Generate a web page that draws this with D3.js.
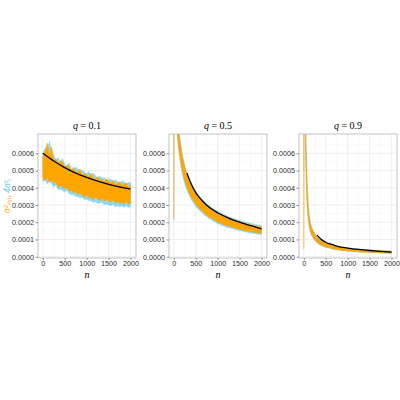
<!DOCTYPE html>
<html lang="en">
<head>
  <meta charset="UTF-8">
  <title>variance vs n</title>
  <style>
    body { margin: 0; background: #fff; }
  </style>
</head>
<body>
  <script src="https://cdn.jsdelivr.net/npm/d3@7/dist/d3.min.js"></script>
  <script>
// 画布大小
const width = 400
const height = 400

// 数据 (y 值单位: 1e-4)
const panelTitles = ['0.1', '0.5', '0.9']
const yTicks = [0, 1, 2, 3, 4, 5, 6]
const xTicks = [0, 500, 1000, 1500, 2000]

// q = 0.1 的 n 网格
const nGrid = [0, 50, 100, 150, 200, 250, 300, 350, 400, 450, 500,
  550, 600, 650, 700, 750, 800, 850, 900, 950, 1000,
  1050, 1100, 1150, 1200, 1250, 1300, 1350, 1400, 1450, 1500,
  1550, 1600, 1650, 1700, 1750, 1800, 1850, 1900, 1950, 2000]
// q = 0.5, 0.9 的 n 网格 (开头更密)
const nGridEarly = [0, 10, 20, 35, 50, 75, 100, 125, 150, 175, 200,
  250, 300, 350, 400, 450, 500,
  550, 600, 650, 700, 750, 800, 850, 900, 950, 1000,
  1050, 1100, 1150, 1200, 1250, 1300, 1350, 1400, 1450, 1500,
  1550, 1600, 1650, 1700, 1750, 1800, 1850, 1900, 1950, 2000]

// q = 0.1
const q1OrangeHi = [5.8, 6.1, 6.6, 5.9, 6.4, 5.5, 5.7, 5.35, 5.6, 5.5, 5.1,
  5.35, 5.25, 4.95, 5.2, 4.85, 4.95, 5.1, 4.7, 4.85, 4.75,
  4.6, 4.85, 4.55, 4.5, 4.65, 4.45, 4.5, 4.3, 4.55, 4.35,
  4.3, 4.45, 4.2, 4.25, 4.35, 4.15, 4.2, 4.3, 4.05, 4.15]
const q1OrangeLo = [4.55, 4.4, 4.6, 4.3, 4.45, 4.25, 4.35, 4.0, 4.15, 4.05, 3.95,
  4.0, 3.8, 3.85, 3.7, 3.8, 3.6, 3.7, 3.55, 3.45, 3.6,
  3.4, 3.5, 3.3, 3.45, 3.35, 3.25, 3.4, 3.2, 3.3, 3.25,
  3.15, 3.3, 3.1, 3.2, 3.1, 3.15, 3.05, 3.2, 3.05, 3.1]
const q1BlueHi = [6.0, 6.3, 6.2, 6.7, 6.1, 5.9, 5.6, 5.75, 5.4, 5.7, 5.35,
  5.2, 5.45, 5.15, 5.05, 5.2, 5.1, 4.9, 5.05, 4.9, 4.8,
  4.95, 4.7, 4.85, 4.7, 4.55, 4.7, 4.55, 4.6, 4.4, 4.5,
  4.5, 4.35, 4.45, 4.4, 4.25, 4.4, 4.35, 4.2, 4.3, 4.3]
const q1BlueLo = [4.3, 4.5, 4.2, 4.4, 4.25, 4.05, 4.15, 3.9, 3.9, 3.85, 3.75,
  3.85, 3.65, 3.6, 3.6, 3.5, 3.5, 3.4, 3.45, 3.3, 3.35,
  3.25, 3.25, 3.15, 3.2, 3.1, 3.1, 3.15, 3.0, 3.05, 3.0,
  2.95, 3.05, 2.9, 2.95, 2.9, 2.95, 2.85, 2.95, 2.85, 2.9]
const q1CurveN = [0, 250, 500, 750, 1000, 1250, 1500, 1750, 2000]
const q1Curve = [6.0, 5.55, 5.17, 4.85, 4.6, 4.38, 4.2, 4.05, 3.92]

// q = 0.5
const q5OrangeHi = [2.3, 22, 15, 11, 9.6, 8.4, 7.6, 7.0, 6.5, 6.1, 5.7,
  5.2, 4.75, 4.35, 4.15, 3.8, 3.7,
  3.5, 3.35, 3.25, 3.05, 3.0, 2.85, 2.8, 2.65, 2.65, 2.5,
  2.5, 2.38, 2.4, 2.28, 2.25, 2.22, 2.12, 2.16, 2.05, 2.06,
  1.98, 1.95, 1.93, 1.86, 1.88, 1.8, 1.84, 1.75, 1.78, 1.72]
const q5OrangeLo = [2.2, 18, 12, 9.3, 8.3, 7.3, 6.6, 6.0, 5.6, 5.2, 4.9,
  4.4, 4.0, 3.7, 3.45, 3.25, 3.05,
  2.9, 2.75, 2.65, 2.5, 2.42, 2.3, 2.25, 2.15, 2.1, 2.0,
  1.97, 1.9, 1.86, 1.8, 1.77, 1.72, 1.7, 1.65, 1.62, 1.58,
  1.57, 1.52, 1.5, 1.47, 1.46, 1.42, 1.41, 1.38, 1.37, 1.35]
const q5BlueHi = [2.4, 24, 16, 11.5, 10, 8.7, 7.9, 7.2, 6.7, 6.3, 5.9,
  5.35, 4.85, 4.5, 4.25, 3.95, 3.8,
  3.6, 3.48, 3.3, 3.22, 3.05, 3.0, 2.85, 2.8, 2.7, 2.66,
  2.55, 2.52, 2.43, 2.4, 2.32, 2.3, 2.22, 2.2, 2.13, 2.12,
  2.05, 2.05, 1.98, 1.98, 1.92, 1.92, 1.86, 1.87, 1.82, 1.8]
const q5BlueLo = [2.1, 17, 11.5, 9, 8, 7.0, 6.3, 5.8, 5.4, 5.0, 4.7,
  4.2, 3.85, 3.55, 3.3, 3.1, 2.9,
  2.78, 2.62, 2.55, 2.4, 2.33, 2.2, 2.16, 2.06, 2.02, 1.9,
  1.88, 1.8, 1.78, 1.7, 1.69, 1.63, 1.62, 1.56, 1.55, 1.5,
  1.49, 1.44, 1.43, 1.39, 1.38, 1.35, 1.34, 1.31, 1.3, 1.28]
const q5CurveN = [300, 400, 500, 600, 750, 1000, 1250, 1500, 1750, 2000]
const q5Curve = [4.85, 4.2, 3.72, 3.38, 2.98, 2.55, 2.24, 2.0, 1.8, 1.62]

// q = 0.9
const q9OrangeHi = [0.55, 30, 16, 9.5, 6.5, 4.2, 2.9, 2.3, 1.9, 1.7, 1.55,
  1.3, 1.1, 1.0, 0.92, 0.85, 0.78,
  0.75, 0.7, 0.66, 0.62, 0.59, 0.56, 0.54, 0.52, 0.5, 0.48,
  0.47, 0.45, 0.44, 0.43, 0.42, 0.41, 0.4, 0.39, 0.38, 0.37,
  0.37, 0.36, 0.35, 0.35, 0.34, 0.34, 0.33, 0.33, 0.32, 0.32]
const q9OrangeLo = [0.45, 20, 11, 7, 4.8, 3.1, 2.2, 1.75, 1.45, 1.3, 1.18,
  0.98, 0.84, 0.75, 0.68, 0.62, 0.56,
  0.54, 0.5, 0.47, 0.44, 0.42, 0.4, 0.38, 0.36, 0.35, 0.33,
  0.32, 0.31, 0.3, 0.29, 0.28, 0.27, 0.27, 0.26, 0.25, 0.25,
  0.24, 0.24, 0.23, 0.23, 0.22, 0.22, 0.21, 0.21, 0.21, 0.2]
const q9BlueHi = [9, 32, 17, 10, 7, 4.5, 3.1, 2.45, 2.0, 1.8, 1.62,
  1.37, 1.16, 1.05, 0.96, 0.89, 0.82,
  0.78, 0.73, 0.69, 0.65, 0.62, 0.59, 0.57, 0.55, 0.53, 0.51,
  0.5, 0.48, 0.47, 0.46, 0.45, 0.44, 0.43, 0.42, 0.41, 0.4,
  0.4, 0.39, 0.38, 0.38, 0.37, 0.37, 0.36, 0.36, 0.35, 0.35]
const q9BlueLo = [5, 19, 10.5, 6.6, 4.5, 2.9, 2.05, 1.62, 1.35, 1.2, 1.1,
  0.92, 0.79, 0.7, 0.64, 0.58, 0.53,
  0.51, 0.47, 0.44, 0.41, 0.39, 0.37, 0.35, 0.34, 0.33, 0.31,
  0.3, 0.29, 0.28, 0.27, 0.26, 0.25, 0.25, 0.24, 0.23, 0.23,
  0.22, 0.22, 0.21, 0.21, 0.2, 0.2, 0.19, 0.19, 0.19, 0.18]
const q9CurveN = [300, 400, 500, 600, 750, 1000, 1250, 1500, 1750, 2000]
const q9Curve = [1.25, 1.0, 0.84, 0.74, 0.62, 0.5, 0.42, 0.36, 0.31, 0.27]

// 面板配置
const panels = [
  { title: panelTitles[0], n: nGrid, oHi: q1OrangeHi, oLo: q1OrangeLo, bHi: q1BlueHi, bLo: q1BlueLo, cn: q1CurveN, c: q1Curve },
  { title: panelTitles[1], n: nGridEarly, oHi: q5OrangeHi, oLo: q5OrangeLo, bHi: q5BlueHi, bLo: q5BlueLo, cn: q5CurveN, c: q5Curve },
  { title: panelTitles[2], n: nGridEarly, oHi: q9OrangeHi, oLo: q9OrangeLo, bHi: q9BlueHi, bLo: q9BlueLo, cn: q9CurveN, c: q9Curve }
]

const orange = '#ffa500'
const blue = '#5cc8f0'

const panelLeft = [38, 169, 299]
const panelTop = 134
const panelW = 98
const panelH = 124

const svg = d3.select('body').append('svg')
  .attr('width', width)
  .attr('height', height)
  .style('font-family', 'Liberation Sans, Arial, sans-serif')

// 比例尺
const xScale = d3.scaleLinear().domain([-110, 2125]).range([0, panelW])
const yScale = d3.scaleLinear().domain([-0.075, 7.12]).range([panelH, 0])

const xMinor = [250, 750, 1250, 1750]
const yMinor = [0.5, 1.5, 2.5, 3.5, 4.5, 5.5, 6.5]

panels.forEach((p, k) => {
  const g = svg.append('g')
    .attr('transform', `translate(${panelLeft[k]}, ${panelTop})`)

  // 网格
  g.selectAll('.minor-x').data(xMinor).enter().append('line')
    .attr('x1', d => xScale(d)).attr('x2', d => xScale(d))
    .attr('y1', 0).attr('y2', panelH)
    .attr('stroke', '#f4f4f4').attr('stroke-width', 0.5)
  g.selectAll('.minor-y').data(yMinor).enter().append('line')
    .attr('y1', d => yScale(d)).attr('y2', d => yScale(d))
    .attr('x1', 0).attr('x2', panelW)
    .attr('stroke', '#f4f4f4').attr('stroke-width', 0.5)
  g.selectAll('.major-x').data(xTicks).enter().append('line')
    .attr('x1', d => xScale(d)).attr('x2', d => xScale(d))
    .attr('y1', 0).attr('y2', panelH)
    .attr('stroke', '#ebebeb').attr('stroke-width', 0.8)
  g.selectAll('.major-y').data(yTicks).enter().append('line')
    .attr('y1', d => yScale(d)).attr('y2', d => yScale(d))
    .attr('x1', 0).attr('x2', panelW)
    .attr('stroke', '#ebebeb').attr('stroke-width', 0.8)

  // 裁剪
  svg.append('clipPath').attr('id', 'clip' + k)
    .append('rect').attr('width', panelW).attr('height', panelH)

  const plot = g.append('g').attr('clip-path', `url(#clip${k})`)

  const idx = p.n.map((d, i) => i)
  const bandArea = (hi, lo) => d3.area()
    .x(i => xScale(p.n[i]))
    .y0(i => yScale(lo[i]))
    .y1(i => yScale(hi[i]))

  plot.append('path').datum(idx)
    .attr('d', bandArea(p.bHi, p.bLo))
    .attr('fill', blue).attr('fill-opacity', 0.7)
    .attr('stroke', blue).attr('stroke-width', 0.4).attr('stroke-opacity', 0.6)
  plot.append('path').datum(idx)
    .attr('d', bandArea(p.oHi, p.oLo))
    .attr('fill', orange)
    .attr('stroke', orange).attr('stroke-width', 0.4)

  // 黑色理论曲线
  const line = d3.line()
    .x((d, i) => xScale(p.cn[i]))
    .y(d => yScale(d))
    .curve(d3.curveMonotoneX)
  plot.append('path').datum(p.c)
    .attr('d', line)
    .attr('fill', 'none')
    .attr('stroke', '#000')
    .attr('stroke-width', 1.3)

  // 边框
  g.append('rect')
    .attr('width', panelW).attr('height', panelH)
    .attr('fill', 'none')
    .attr('stroke', '#bdbdbd').attr('stroke-width', 0.9)

  // y 轴
  const yAxis = d3.axisLeft(yScale).tickValues(yTicks)
    .tickSize(2.5).tickPadding(1.5)
    .tickFormat(d => (d / 10000).toFixed(4))
  const ya = g.append('g').call(yAxis)
  ya.select('.domain').remove()
  ya.selectAll('line').attr('stroke', '#555').attr('stroke-width', 0.6)
  ya.selectAll('text').attr('font-size', '7.2px').style('fill', '#2b2b2b')
    .style('font-family', 'Liberation Sans, Arial, sans-serif')

  // x 轴
  const xAxis = d3.axisBottom(xScale).tickValues(xTicks)
    .tickSize(2).tickPadding(1)
    .tickFormat(d3.format('d'))
  const xa = g.append('g').attr('transform', `translate(0, ${panelH})`).call(xAxis)
  xa.select('.domain').remove()
  xa.selectAll('line').attr('stroke', '#555').attr('stroke-width', 0.6)
  xa.selectAll('text').attr('font-size', '7.2px').style('fill', '#2b2b2b')
    .style('font-family', 'Liberation Sans, Arial, sans-serif')

  // x 轴标签
  g.append('text')
    .attr('x', panelW / 2).attr('y', panelH + 20)
    .attr('text-anchor', 'middle')
    .style('font-family', 'Liberation Serif, serif')
    .style('font-style', 'italic')
    .attr('font-size', '10px')
    .text('n')

  // 标题
  const t = g.append('text')
    .attr('x', panelW / 2).attr('y', -5)
    .attr('text-anchor', 'middle')
    .style('font-family', 'Liberation Serif, serif')
    .attr('font-size', '10px')
  t.append('tspan').style('font-style', 'italic').text('q')
  t.append('tspan').text(' = ' + p.title)
})

// y 轴标签 (两种颜色)
const yl = svg.append('text')
  .attr('transform', `translate(10, ${panelTop + panelH / 2}) rotate(-90)`)
  .attr('text-anchor', 'middle')
  .style('font-family', 'Liberation Serif, serif')
  .style('font-style', 'italic')
  .attr('font-size', '9.5px')
yl.append('tspan').attr('fill', orange).text('σ²ₙ,ᵢ, ')
yl.append('tspan').attr('fill', blue).text('4σ²ᵢ')
  </script>
</body>
</html>
